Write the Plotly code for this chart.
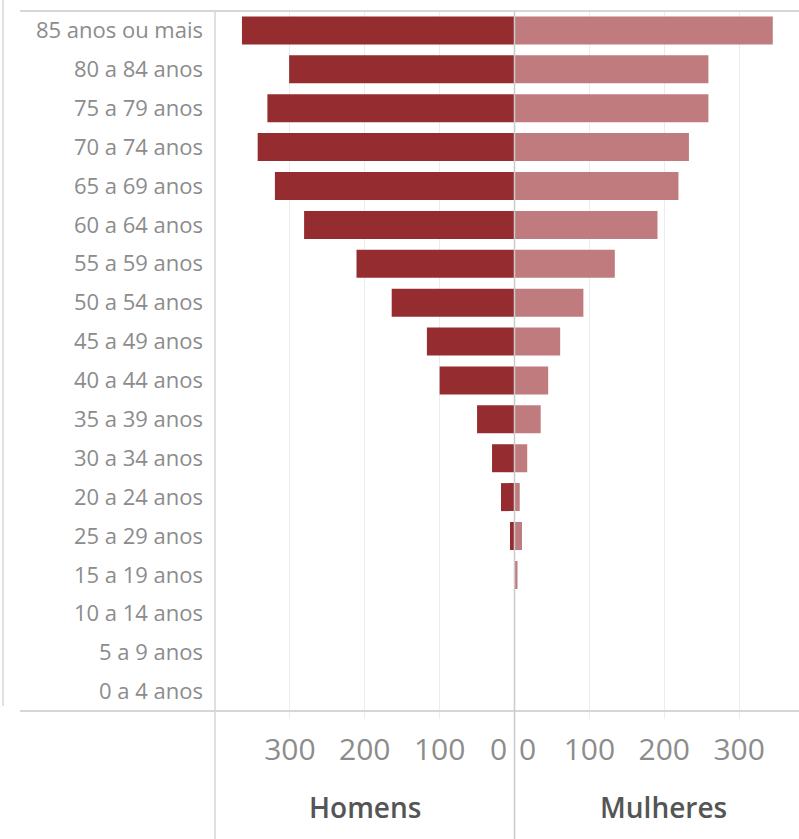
import plotly.graph_objects as go

categories = ["85 anos ou mais", "80 a 84 anos", "75 a 79 anos", "70 a 74 anos",
              "65 a 69 anos", "60 a 64 anos", "55 a 59 anos", "50 a 54 anos",
              "45 a 49 anos", "40 a 44 anos", "35 a 39 anos", "30 a 34 anos",
              "20 a 24 anos", "25 a 29 anos", "15 a 19 anos", "10 a 14 anos",
              "5 a 9 anos", "0 a 4 anos"]
homens = [364, 301, 330, 343, 320, 281, 211, 164, 117, 100, 50, 30, 18, 6, 0, 0, 0, 0]
mulheres = [345, 259, 259, 233, 219, 191, 134, 92, 61, 45, 35, 17, 7, 10, 4, 0, 0, 0]
tick_vals = [100, 200, 300]
tick_text = ["100", "200", "300"]

W, H = 799, 839
L, R, T, B = 215, 0, 11, 128
PW = W - L - R
PH = H - T - B
split = 299.5 / PW

def px(x):
    return (x - L) / PW

def py(y):
    return (H - B - y) / PH

FONT = "Open Sans"
GRAY = "#8c8c8c"
LINE = "#d6d6d6"

fig = go.Figure()
fig.add_trace(go.Bar(y=categories, x=homens, orientation="h", xaxis="x", yaxis="y",
                     marker=dict(color="#952c30", line=dict(width=0)), width=0.72,
                     name="Homens", showlegend=False))
fig.add_trace(go.Bar(y=categories, x=mulheres, orientation="h", xaxis="x2", yaxis="y",
                     marker=dict(color="#c07b7e", line=dict(width=0)), width=0.72,
                     name="Mulheres", showlegend=False))

xcommon = dict(showgrid=True, gridcolor="#ececec", gridwidth=1, zeroline=False,
               tickvals=tick_vals, ticktext=tick_text, ticks="outside", ticklen=7,
               tickcolor="#ececec", ticklabelstandoff=5,
               tickfont=dict(family=FONT, size=30, color=GRAY),
               showline=False, fixedrange=True)

fig.update_layout(
    width=W, height=H,
    margin=dict(l=L, r=R, t=T, b=B, pad=0),
    plot_bgcolor="white", paper_bgcolor="white",
    bargap=0.28,
    xaxis=dict(domain=[0, split], range=[400, 0], anchor="y", **xcommon),
    xaxis2=dict(domain=[split, 1], range=[0, 380], anchor="y", **xcommon),
    yaxis=dict(type="category", categoryorder="array", categoryarray=categories,
               range=[17.5, -0.5], showgrid=False, zeroline=False, showline=False,
               ticks="", ticklabelstandoff=11, fixedrange=True,
               tickfont=dict(family=FONT, size=22, color=GRAY)),
    shapes=[
        dict(type="line", xref="paper", yref="paper", x0=px(20), x1=1, y0=1, y1=1,
             line=dict(color=LINE, width=2)),
        dict(type="line", xref="paper", yref="paper", x0=px(20), x1=1, y0=0, y1=0,
             line=dict(color=LINE, width=2)),
        dict(type="line", xref="paper", yref="paper", x0=0, x1=0, y0=1, y1=py(H),
             line=dict(color=LINE, width=1.5)),
        dict(type="line", xref="paper", yref="paper", x0=split, x1=split, y0=1, y1=py(H),
             line=dict(color="#cbcbcb", width=1.5)),
        dict(type="line", xref="paper", yref="paper", x0=px(3), x1=px(3), y0=py(0), y1=py(706),
             line=dict(color=LINE, width=1.5)),
    ],
    annotations=[
        dict(text="0", xref="x", yref="paper", x=0, y=py(748), xanchor="right",
             yanchor="middle", xshift=-6, showarrow=False,
             font=dict(family=FONT, size=30, color=GRAY)),
        dict(text="0", xref="x2", yref="paper", x=0, y=py(748), xanchor="left",
             yanchor="middle", xshift=2, showarrow=False,
             font=dict(family=FONT, size=30, color=GRAY)),
        dict(text="Homens", xref="paper", yref="paper", x=px(365), y=py(807),
             xanchor="center", yanchor="middle", showarrow=False,
             font=dict(family=FONT, size=28, color="#555555", weight=600)),
        dict(text="Mulheres", xref="paper", yref="paper", x=px(663), y=py(807),
             xanchor="center", yanchor="middle", showarrow=False,
             font=dict(family=FONT, size=28, color="#555555", weight=600)),
    ],
)

fig.write_html("out.html", config={"displayModeBar": False},
               post_script="document.body.style.margin='0';document.body.style.padding='0';document.body.style.overflow='hidden';")
